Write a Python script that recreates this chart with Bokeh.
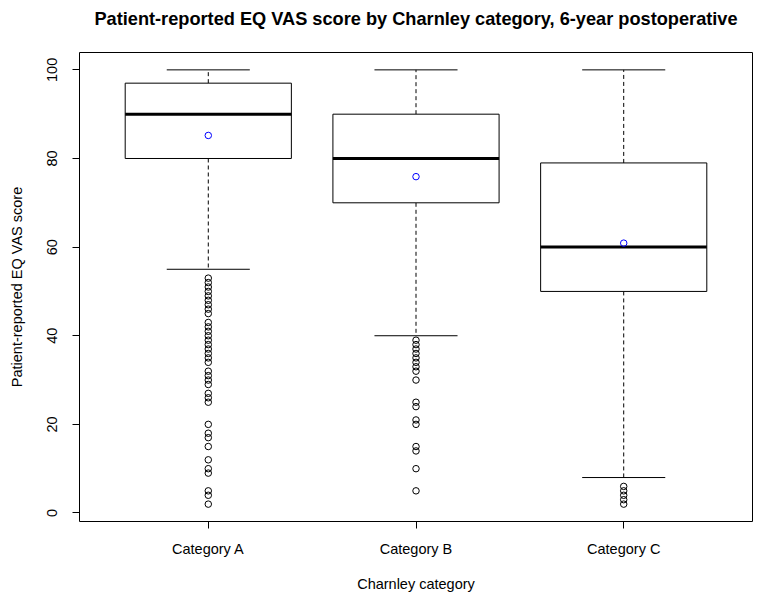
from bokeh.plotting import figure
from bokeh.models import Range1d, FixedTicker, Title, ColumnDataSource
from bokeh.embed import file_html
from bokeh.resources import INLINE

# ---- data ----
categories = ["Category A", "Category B", "Category C"]
positions = [1, 2, 3]
q1 = [80, 70, 50]
medians = [90, 80, 60]
q3 = [97, 90, 79]
whisker_low = [55, 40, 8]
whisker_high = [100, 100, 100]
means = [85.2, 75.9, 60.9]

outliers_a = [53, 52, 51, 50, 49, 48, 47, 46, 45, 43, 42, 41, 40, 39, 38, 37, 36,
              35, 34, 32, 31, 30, 29, 27, 26, 25, 20, 18, 17, 15, 12, 10, 9, 5, 4, 2]
outliers_b = [39, 38, 37, 36, 35, 34, 33, 32, 30, 25, 24, 21, 20, 15, 14, 10, 5]
outliers_c = [6, 5, 4, 3, 2]

FONT = "Liberation Sans"
BOX_HALF = 0.4
CAP_HALF = 0.2

p = figure(width=757, height=599,
           x_range=Range1d(0.38, 3.62), y_range=Range1d(-1.92, 103.92),
           output_backend="svg", toolbar_location=None,
           min_border_left=79, min_border_right=5,
           min_border_top=52, min_border_bottom=78)

p.title = Title(text="Patient-reported EQ VAS score by Charnley category, 6-year postoperative",
                align="center", text_font=FONT, text_font_size="18.2px",
                text_font_style="bold", text_color="black")
# spacer between title and frame
p.add_layout(Title(text=" ", text_font=FONT, text_font_size="15px", standoff=0), "above")

p.xgrid.visible = False
p.ygrid.visible = False
p.outline_line_color = "black"
p.outline_line_width = 1
p.background_fill_color = "white"
p.border_fill_color = "white"

# axes
p.xaxis.ticker = FixedTicker(ticks=positions)
p.xaxis.major_label_overrides = {pos: c for pos, c in zip(positions, categories)}
p.yaxis.ticker = FixedTicker(ticks=[0, 20, 40, 60, 80, 100])
p.yaxis.major_label_orientation = "vertical"
p.xaxis.axis_label = "Charnley category"
p.yaxis.axis_label = "Patient-reported EQ VAS score"
for ax in (p.xaxis, p.yaxis):
    ax.axis_line_color = None
    ax.major_tick_out = 7
    ax.major_tick_in = 0
    ax.minor_tick_out = 0
    ax.minor_tick_in = 0
    ax.major_tick_line_color = "black"
    ax.major_label_text_font = FONT
    ax.major_label_text_font_size = "14.5px"
    ax.major_label_text_color = "black"
    ax.axis_label_text_font = FONT
    ax.axis_label_text_font_size = "14.5px"
    ax.axis_label_text_font_style = "normal"
    ax.axis_label_text_color = "black"
p.xaxis.major_label_standoff = 12
p.xaxis.axis_label_standoff = 16
p.yaxis.major_label_standoff = 15
p.yaxis.axis_label_standoff = 20

# boxes
src = ColumnDataSource(dict(
    x=positions,
    left=[x - BOX_HALF for x in positions],
    right=[x + BOX_HALF for x in positions],
    cap_l=[x - CAP_HALF for x in positions],
    cap_r=[x + CAP_HALF for x in positions],
    q1=q1, q3=q3, med=medians, lo=whisker_low, hi=whisker_high, mean=means,
))

# whiskers (dashed)
p.segment(x0="x", y0="q3", x1="x", y1="hi", source=src, line_color="black",
          line_width=1, line_dash="4 3")
p.segment(x0="x", y0="q1", x1="x", y1="lo", source=src, line_color="black",
          line_width=1, line_dash="4 3")
# caps
p.segment(x0="cap_l", y0="hi", x1="cap_r", y1="hi", source=src, line_color="black", line_width=1)
p.segment(x0="cap_l", y0="lo", x1="cap_r", y1="lo", source=src, line_color="black", line_width=1)
# boxes
p.quad(left="left", right="right", bottom="q1", top="q3", source=src,
       fill_color="white", line_color="black", line_width=1)
# medians
p.segment(x0="left", y0="med", x1="right", y1="med", source=src,
          line_color="black", line_width=3)
# means
p.scatter(x="x", y="mean", source=src, marker="circle", size=6.5,
          fill_color=None, line_color="blue", line_width=1)

# outliers
ox = [1] * len(outliers_a) + [2] * len(outliers_b) + [3] * len(outliers_c)
oy = outliers_a + outliers_b + outliers_c
p.scatter(x=ox, y=oy, marker="circle", size=6.5, fill_color=None,
          line_color="black", line_width=1)

open("out.html", "w").write(file_html(p, INLINE))
